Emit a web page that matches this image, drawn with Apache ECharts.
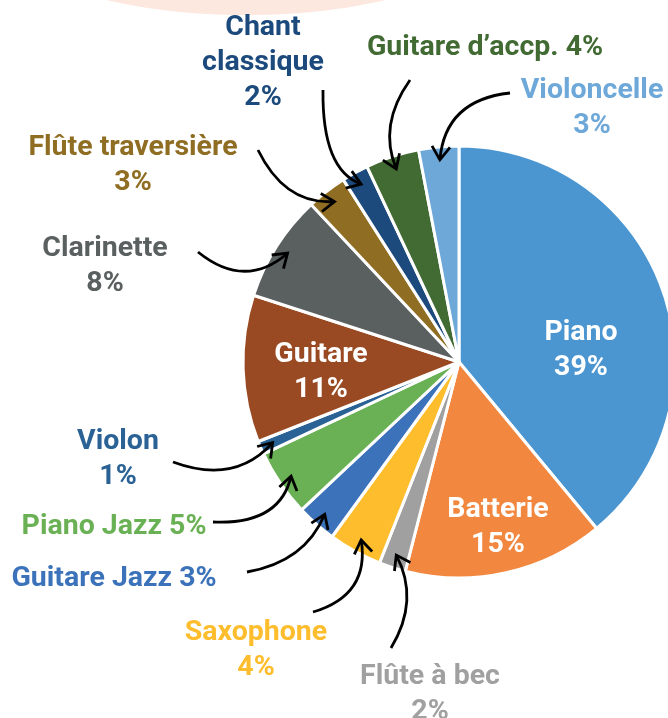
<!DOCTYPE html>
<html>
<head>
<meta charset="utf-8">
<script src="https://cdn.jsdelivr.net/npm/echarts@6/dist/echarts.min.js"></script>
<style>
  html, body { margin: 0; padding: 0; background: #fff; }
  #chart { width: 668px; height: 718px; }
</style>
</head>
<body>
<div id="chart"></div>
<script>
// données (clockwise depuis midi)
var names = ['Piano', 'Batterie', 'Flûte à bec', 'Saxophone', 'Guitare Jazz', 'Piano Jazz', 'Violon',
  'Guitare', 'Clarinette', 'Flûte traversière', 'Chant classique', 'Guitare d’accp.', 'Violoncelle']
var values = [39, 15, 2, 4, 3, 5, 1, 11, 8, 3, 2, 4, 3]
var colors = ['#4b96d1', '#f2873f', '#a0a0a0', '#fdbd2d', '#3b72ba', '#6ab155', '#2a6295',
  '#9a4a22', '#5a5f5f', '#8f6d22', '#1c4a7c', '#416b33', '#6da8d9']

var insideLabels = ['Piano', 'Batterie', 'Guitare']
var oneLineLabels = ['Guitare d’accp.', 'Piano Jazz', 'Guitare Jazz']

// centre des étiquettes
var labelPos = [
  [581, 350], [498, 527], [430, 694], [256, 650], [114, 579], [114, 527], [118, 459],
  [321, 372], [105, 266], [133, 165], [263, 63], [485, 48], [592, 108]
]

// flèches : départ et point de contrôle (la pointe est calculée sur la part)
var arrows = [
  { idx: 12, tail: [510, 93], ctrl: [445, 100] },
  { idx: 11, tail: [410, 80], ctrl: [378, 125] },
  { idx: 10, tail: [323, 90], ctrl: [322, 170] },
  { idx: 9, tail: [258, 150], ctrl: [285, 205] },
  { idx: 8, tail: [198, 252], ctrl: [245, 290] },
  { idx: 6, tail: [173, 462], ctrl: [235, 485] },
  { idx: 5, tail: [213, 522], ctrl: [280, 525] },
  { idx: 4, tail: [247, 572], ctrl: [305, 562] },
  { idx: 3, tail: [313, 612], ctrl: [370, 595] },
  { idx: 2, tail: [391, 648], ctrl: [420, 600] }
]

var center = [459, 362]
var radius = 216

var chart = echarts.init(document.getElementById('chart'))

function buildArrows() {
  var total = values.reduce(function (a, b) { return a + b }, 0)
  var cum = [], acc = 0
  values.forEach(function (v) { cum.push(acc); acc += v })
  var els = []
  arrows.forEach(function (a) {
    var mid = (cum[a.idx] + values[a.idx] / 2) / total * Math.PI * 2
    var r = radius * 0.94
    var hx = center[0] + r * Math.sin(mid)
    var hy = center[1] - r * Math.cos(mid)
    els.push({
      type: 'bezierCurve',
      z: 100,
      shape: { x1: a.tail[0], y1: a.tail[1], x2: hx, y2: hy, cpx1: a.ctrl[0], cpy1: a.ctrl[1] },
      style: { stroke: '#000', lineWidth: 2.8, fill: null }
    })
    var ang = Math.atan2(hy - a.ctrl[1], hx - a.ctrl[0])
    var len = 16, spread = 0.6
    els.push({
      type: 'polyline',
      z: 100,
      shape: {
        points: [
          [hx - len * Math.cos(ang - spread), hy - len * Math.sin(ang - spread)],
          [hx, hy],
          [hx - len * Math.cos(ang + spread), hy - len * Math.sin(ang + spread)]
        ]
      },
      style: { stroke: '#000', lineWidth: 2.8, fill: null }
    })
  })
  return els
}

var option = {
  backgroundColor: '#fff',
  animation: false,
  graphic: [{
    type: 'ellipse',
    z: -10,
    shape: { cx: 246, cy: -55, rx: 225, ry: 70 },
    style: { fill: '#fce8df' }
  }].concat(buildArrows()),
  series: [{
    type: 'pie',
    center: center,
    radius: radius,
    startAngle: 90,
    clockwise: true,
    avoidLabelOverlap: false,
    itemStyle: { borderColor: '#fff', borderWidth: 3 },
    label: {
      show: true,
      position: 'inside',
      fontFamily: 'Roboto',
      fontWeight: 'bold',
      fontSize: 28.5,
      lineHeight: 35,
      align: 'center',
      formatter: function (p) {
        var n = p.name === 'Chant classique' ? 'Chant\nclassique' : p.name
        var sep = oneLineLabels.indexOf(p.name) >= 0 ? ' ' : '\n'
        return n + sep + p.value + '%'
      }
    },
    labelLine: { show: false },
    labelLayout: function (params) {
      var p = labelPos[params.dataIndex]
      return { x: p[0], y: p[1], align: 'center', verticalAlign: 'middle' }
    },
    emphasis: { disabled: true },
    data: names.map(function (n, i) {
      return {
        name: n,
        value: values[i],
        itemStyle: { color: colors[i] },
        label: { color: insideLabels.indexOf(n) >= 0 ? '#fff' : colors[i] }
      }
    })
  }]
}
chart.setOption(option)
</script>
</body>
</html>
